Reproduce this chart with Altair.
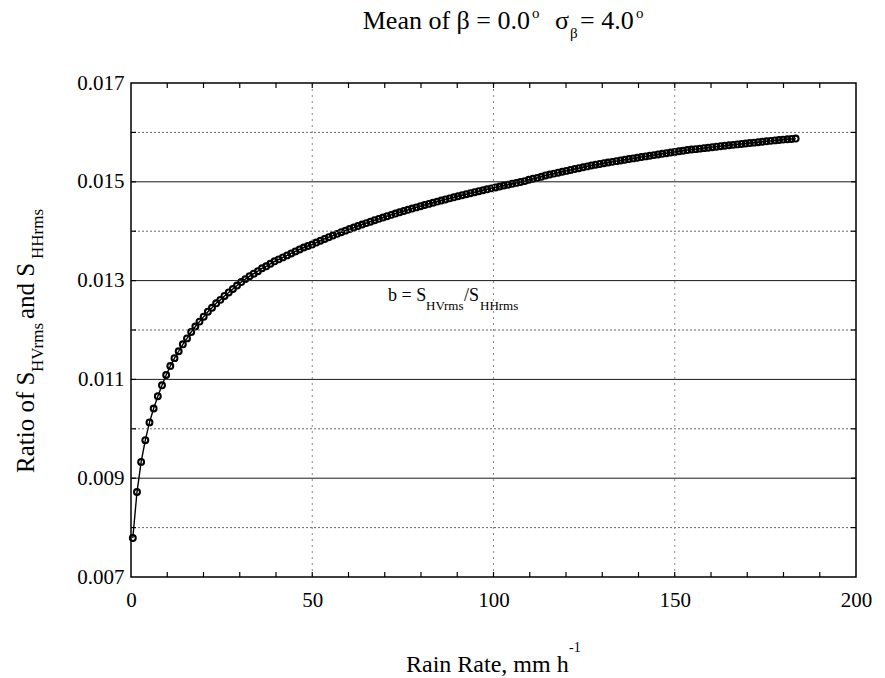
import altair as alt
import pandas as pd

# ---------------- data ----------------
rain_rate = [
    0.5, 1.65, 2.8, 3.95, 5.1, 6.25, 7.4, 8.55, 9.7, 10.85, 12.0, 13.15, 14.3, 15.45,
    16.6, 17.75, 18.9, 20.05, 21.2, 22.35, 23.5, 24.65, 25.8, 26.95, 28.1, 29.25, 30.4,
    31.55, 32.7, 33.85, 35.0, 36.15, 37.3, 38.45, 39.6, 40.75, 41.9, 43.05, 44.2, 45.35,
    46.5, 47.65, 48.8, 49.95, 51.1, 52.25, 53.4, 54.55, 55.7, 56.85, 58.0, 59.15, 60.3,
    61.45, 62.6, 63.75, 64.9, 66.05, 67.2, 68.35, 69.5, 70.65, 71.8, 72.95, 74.1, 75.25,
    76.4, 77.55, 78.7, 79.85, 81.0, 82.15, 83.3, 84.45, 85.6, 86.75, 87.9, 89.05, 90.2,
    91.35, 92.5, 93.65, 94.8, 95.95, 97.1, 98.25, 99.4, 100.55, 101.7, 102.85, 104.0,
    105.15, 106.3, 107.45, 108.6, 109.75, 110.9, 112.05, 113.2, 114.35, 115.5, 116.65,
    117.8, 118.95, 120.1, 121.25, 122.4, 123.55, 124.7, 125.85, 127.0, 128.15, 129.3,
    130.45, 131.6, 132.75, 133.9, 135.05, 136.2, 137.35, 138.5, 139.65, 140.8, 141.95,
    143.1, 144.25, 145.4, 146.55, 147.7, 148.85, 150.0, 151.15, 152.3, 153.45, 154.6,
    155.75, 156.9, 158.05, 159.2, 160.35, 161.5, 162.65, 163.8, 164.95, 166.1, 167.25,
    168.4, 169.55, 170.7, 171.85, 173.0, 174.15, 175.3, 176.45, 177.6, 178.75, 179.9,
    181.05, 182.2, 183.35,
]

ratio_b = [
    0.00779, 0.00872, 0.00933, 0.00977, 0.01013, 0.01041, 0.01066, 0.01088, 0.01109,
    0.01127, 0.01143, 0.01157, 0.01171, 0.01183, 0.01196, 0.01207, 0.01217, 0.01227,
    0.01237, 0.01245, 0.01254, 0.01261, 0.01269, 0.01276, 0.01283, 0.01290, 0.01297,
    0.01303, 0.01309, 0.01314, 0.01319, 0.01325, 0.01329, 0.01334, 0.01339, 0.01343,
    0.01347, 0.01351, 0.01355, 0.01359, 0.01363, 0.01367, 0.01370, 0.01373, 0.01377,
    0.013807, 0.013843, 0.013878, 0.013912, 0.013946, 0.013979, 0.014011, 0.014043,
    0.014074, 0.014105, 0.014135, 0.014164, 0.014193, 0.014222, 0.014250, 0.014277,
    0.014304, 0.014331, 0.014357, 0.014383, 0.014408, 0.014433, 0.014458, 0.014482,
    0.014506, 0.014530, 0.014553, 0.014576, 0.014599, 0.014621, 0.014643, 0.014665,
    0.014686, 0.014707, 0.014728, 0.014749, 0.014769, 0.014789, 0.014809, 0.014829,
    0.014848, 0.014867, 0.014886, 0.014905, 0.014924, 0.014942, 0.014960, 0.014978,
    0.014996, 0.015014, 0.015041, 0.015062, 0.015080, 0.015102, 0.015129, 0.015147,
    0.015166, 0.015185, 0.015203, 0.015221, 0.015240, 0.015258, 0.015276, 0.015294,
    0.015312, 0.015331, 0.015346, 0.015361, 0.015376, 0.015390, 0.015404, 0.015418,
    0.015432, 0.015446, 0.015460, 0.015474, 0.015488, 0.015501, 0.015514, 0.015527,
    0.015540, 0.015553, 0.015566, 0.015579, 0.015592, 0.015605, 0.015618, 0.015630,
    0.015642, 0.015654, 0.015661, 0.015671, 0.015681, 0.015691, 0.015701, 0.015711,
    0.015721, 0.015730, 0.015739, 0.015748, 0.015757, 0.015766, 0.015775, 0.015784,
    0.015793, 0.015802, 0.015811, 0.015820, 0.015829, 0.015838, 0.015846, 0.015854,
    0.015861, 0.015867, 0.015875,
]

x_tick_values = [0, 50, 100, 150, 200]
y_tick_values = [0.007, 0.009, 0.011, 0.013, 0.015, 0.017]
grid_solid = [0.009, 0.011, 0.013, 0.015]
grid_dotted = [0.008, 0.010, 0.012, 0.014, 0.016]
grid_x = [50, 100, 150]
minor_x = [10, 20, 30, 40, 50, 60, 70, 80, 90, 100, 110, 120, 130, 140, 150, 160, 170, 180, 190]
minor_y = [0.008, 0.009, 0.010, 0.011, 0.012, 0.013, 0.014, 0.015, 0.016]

# ---------------- layout ----------------
W, H = 725, 494
PAD = {"left": 131, "top": 83, "right": 29, "bottom": 101}
FONT = "Liberation Serif"

xs = alt.Scale(domain=[0, 200], nice=False, zero=False)
ys = alt.Scale(domain=[0.007, 0.017], nice=False, zero=False)

df = pd.DataFrame({"R": rain_rate, "b": ratio_b})

x_axis = alt.Axis(values=x_tick_values, title=None, grid=False, domain=False, ticks=False,
                  labelFont=FONT, labelFontSize=21, labelPadding=12, labelColor="black",
                  labelFlush=False)
y_axis = alt.Axis(values=y_tick_values, format=".3f", title=None, grid=False, domain=False,
                  ticks=False, labelFont=FONT, labelFontSize=21, labelPadding=7,
                  labelColor="black")

# gridlines
g_solid = alt.Chart(pd.DataFrame({"g": grid_solid})).mark_rule(
    color="#1a1a1a", strokeWidth=1).encode(y=alt.Y("g:Q", scale=ys, axis=y_axis, title=None))
g_dot = alt.Chart(pd.DataFrame({"g": grid_dotted})).mark_rule(
    color="#666666", strokeWidth=1, strokeDash=[2, 2]).encode(
    y=alt.Y("g:Q", scale=ys, axis=y_axis, title=None))
g_x = alt.Chart(pd.DataFrame({"g": grid_x})).mark_rule(
    color="#888888", strokeWidth=1, strokeDash=[2, 4]).encode(
    x=alt.X("g:Q", scale=xs, axis=x_axis, title=None))

# inner tick marks
t_bottom = alt.Chart(pd.DataFrame({"t": minor_x})).mark_rule(color="black", strokeWidth=1.2).encode(
    x=alt.X("t:Q", scale=xs, axis=x_axis, title=None), y=alt.value(H), y2=alt.value(H - 5))
t_top = alt.Chart(pd.DataFrame({"t": minor_x})).mark_rule(color="black", strokeWidth=1.2).encode(
    x=alt.X("t:Q", scale=xs, axis=x_axis, title=None), y=alt.value(0), y2=alt.value(5))
t_left = alt.Chart(pd.DataFrame({"t": minor_y})).mark_rule(color="black", strokeWidth=1.2).encode(
    y=alt.Y("t:Q", scale=ys, axis=y_axis, title=None), x=alt.value(0), x2=alt.value(5))
t_right = alt.Chart(pd.DataFrame({"t": minor_y})).mark_rule(color="black", strokeWidth=1.2).encode(
    y=alt.Y("t:Q", scale=ys, axis=y_axis, title=None), x=alt.value(W), x2=alt.value(W - 5))

base = alt.Chart(df).encode(x=alt.X("R:Q", scale=xs, axis=x_axis, title=None),
                            y=alt.Y("b:Q", scale=ys, axis=y_axis, title=None))
line = base.mark_line(color="black", strokeWidth=1.4)
pts = base.mark_point(shape="circle", filled=False, size=34, strokeWidth=2.1,
                      color="black", opacity=1)

one = pd.DataFrame({"a": [0]})


def txt(text, x, y, size, align="left", angle=0):
    kw = dict(text=text, font=FONT, fontSize=size, align=align, baseline="alphabetic",
              color="black")
    if angle:
        kw["angle"] = angle
    return alt.Chart(one).mark_text(**kw).encode(x=alt.value(x), y=alt.value(y))


texts = [
    # title
    txt("Mean of β = 0.0", 399, -54, 26, align="right"),
    txt("o", 401, -65, 15),
    txt("σ", 424, -54, 26),
    txt("β", 439, -45, 15),
    txt("= 4.0", 449, -54, 26),
    txt("o", 505, -65, 15),
    # annotation
    txt("b = S", 257, 218, 18),
    txt("HVrms", 295, 227, 13),
    txt("/S", 333, 218, 18),
    txt("HHrms", 349, 227, 13),
    # x title
    txt("Rain Rate, mm h", 275, 589, 24),
    txt("-1", 438, 569, 14),
    # y title (rotated)
    txt("Ratio of S", -97, 390, 25, angle=270),
    txt("HVrms", -88, 289, 17, angle=270),
    txt(" and S", -97, 236, 25, angle=270),
    txt("HHrms", -88, 176, 17, angle=270),
]

chart = alt.layer(line, pts, g_dot, g_solid, g_x, t_bottom, t_top, t_left, t_right, *texts).properties(
    width=W, height=H, padding=PAD, autosize=alt.AutoSizeParams(type="none"),
    background="white",
).configure_view(stroke="black", strokeWidth=1.5)

chart.save("out.html", embed_options={"renderer": "svg", "actions": False})
